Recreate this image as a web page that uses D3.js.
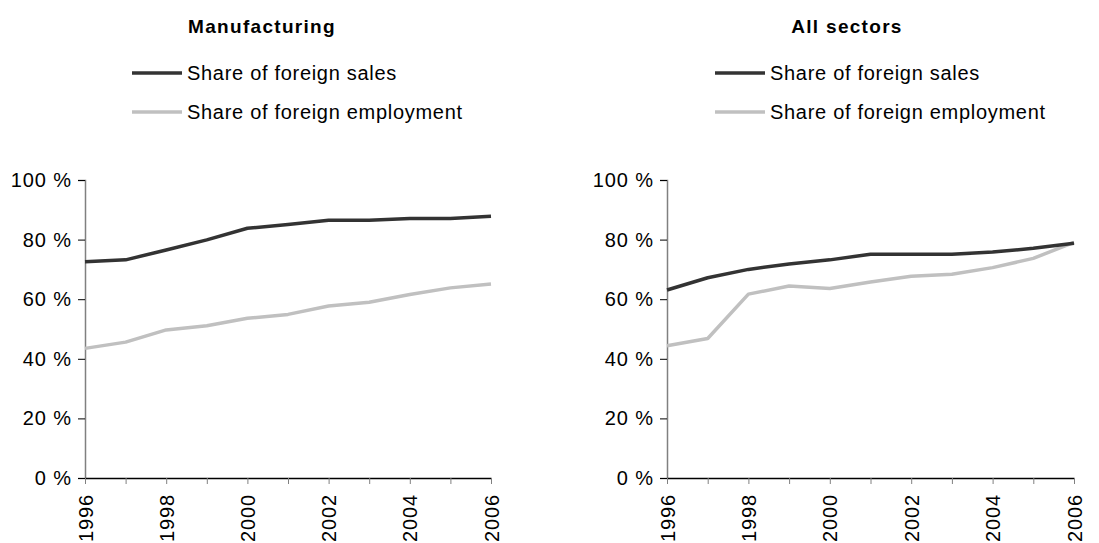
<!DOCTYPE html>
<html>
<head>
<meta charset="utf-8">
<script src="https://cdn.jsdelivr.net/npm/d3@7"></script>
<style>
  body { margin: 0; background: #fff; }
  svg text { font-family: "Liberation Sans", Arial, sans-serif; }
</style>
</head>
<body>
<svg id="chart" width="1099" height="543"></svg>
<script>
// data
var years = [1996, 1997, 1998, 1999, 2000, 2001, 2002, 2003, 2004, 2005, 2006];
var yTicks = [0, 20, 40, 60, 80, 100];
var seriesNames = ["Share of foreign sales", "Share of foreign employment"];
var panelTitles = ["Manufacturing", "All sectors"];

var manuSales = [72.6, 73.2, 76.5, 79.9, 83.8, 85.1, 86.5, 86.5, 87.1, 87.1, 87.8];
var manuEmployment = [43.5, 45.6, 49.7, 51.1, 53.6, 54.9, 57.7, 59.0, 61.6, 63.8, 65.1];
var allSales = [63.1, 67.2, 70.0, 71.8, 73.2, 75.1, 75.1, 75.1, 75.8, 77.1, 78.8];
var allEmployment = [44.4, 46.8, 61.7, 64.4, 63.6, 65.8, 67.7, 68.4, 70.6, 73.7, 79.1];

var colors = ["#333333", "#c0c0c0"];

var svg = d3.select("#chart");

function drawPanel(opts) {
    var g = svg.append("g");

    var x = d3.scaleLinear()
        .domain([years[0], years[years.length - 1]])
        .range([opts.left, opts.right]);

    var y = d3.scaleLinear()
        .domain([0, 100])
        .range([478, 180]);

    // title
    g.append("text")
        .attr("x", opts.titleX)
        .attr("y", 33)
        .attr("text-anchor", "middle")
        .style("font-weight", "bold")
        .style("font-size", "19px")
        .style("letter-spacing", "1.3px")
        .text(opts.title);

    // legend
    seriesNames.forEach(function(name, i) {
        let ly = 73 + i * 39;
        g.append("line")
            .attr("x1", opts.legendX)
            .attr("x2", opts.legendX + 50)
            .attr("y1", ly)
            .attr("y2", ly)
            .attr("stroke", colors[i])
            .attr("stroke-width", 3.5);
        g.append("text")
            .attr("x", opts.legendX + 55)
            .attr("y", ly)
            .attr("dy", "0.35em")
            .style("font-size", "20px")
            .style("letter-spacing", "0.7px")
            .text(name);
    });

    // y axis
    var yAxis = d3.axisLeft(y)
        .tickValues(yTicks)
        .tickSize(7)
        .tickPadding(6)
        .tickFormat(function(d) { return d + " %"; });

    var ya = g.append("g")
        .attr("transform", "translate(" + opts.left + ",0)")
        .call(yAxis);
    ya.select(".domain").attr("stroke", "#808080").attr("stroke-width", 1.5);
    ya.selectAll(".tick line").attr("stroke", "#000");
    ya.selectAll(".tick text")
        .style("font-size", "20px")
        .style("letter-spacing", "0.9px")
        .attr("fill", "#000");

    // x axis
    var xAxis = d3.axisBottom(x)
        .tickValues(years)
        .tickSize(6)
        .tickSizeOuter(0)
        .tickFormat(function(d) { return d % 2 === 0 ? d : ""; });

    var xa = g.append("g")
        .attr("transform", "translate(0," + y(0) + ")")
        .call(xAxis);
    xa.select(".domain").attr("stroke", "#000").attr("stroke-width", 1.5);
    xa.selectAll(".tick line").attr("stroke", "#808080");
    xa.selectAll(".tick text")
        .style("font-size", "20px")
        .style("letter-spacing", "0.9px")
        .attr("fill", "#000")
        .attr("text-anchor", "end")
        .attr("transform", "rotate(-90)")
        .attr("x", -16)
        .attr("y", 0)
        .attr("dy", "0.35em");

    // lines
    var line = d3.line()
        .x(function(d, i) { return x(years[i]); })
        .y(function(d) { return y(d); });

    [opts.employment, opts.sales].forEach(function(values) {
        let idx = values === opts.sales ? 0 : 1;
        g.append("path")
            .datum(values)
            .attr("fill", "none")
            .attr("stroke", colors[idx])
            .attr("stroke-width", 3.5)
            .attr("stroke-linejoin", "round")
            .attr("d", line);
    });
}

drawPanel({
    left: 85, right: 491,
    title: panelTitles[0], titleX: 262,
    legendX: 132,
    sales: manuSales, employment: manuEmployment
});

drawPanel({
    left: 667, right: 1074,
    title: panelTitles[1], titleX: 847,
    legendX: 715,
    sales: allSales, employment: allEmployment
});
</script>
</body>
</html>
